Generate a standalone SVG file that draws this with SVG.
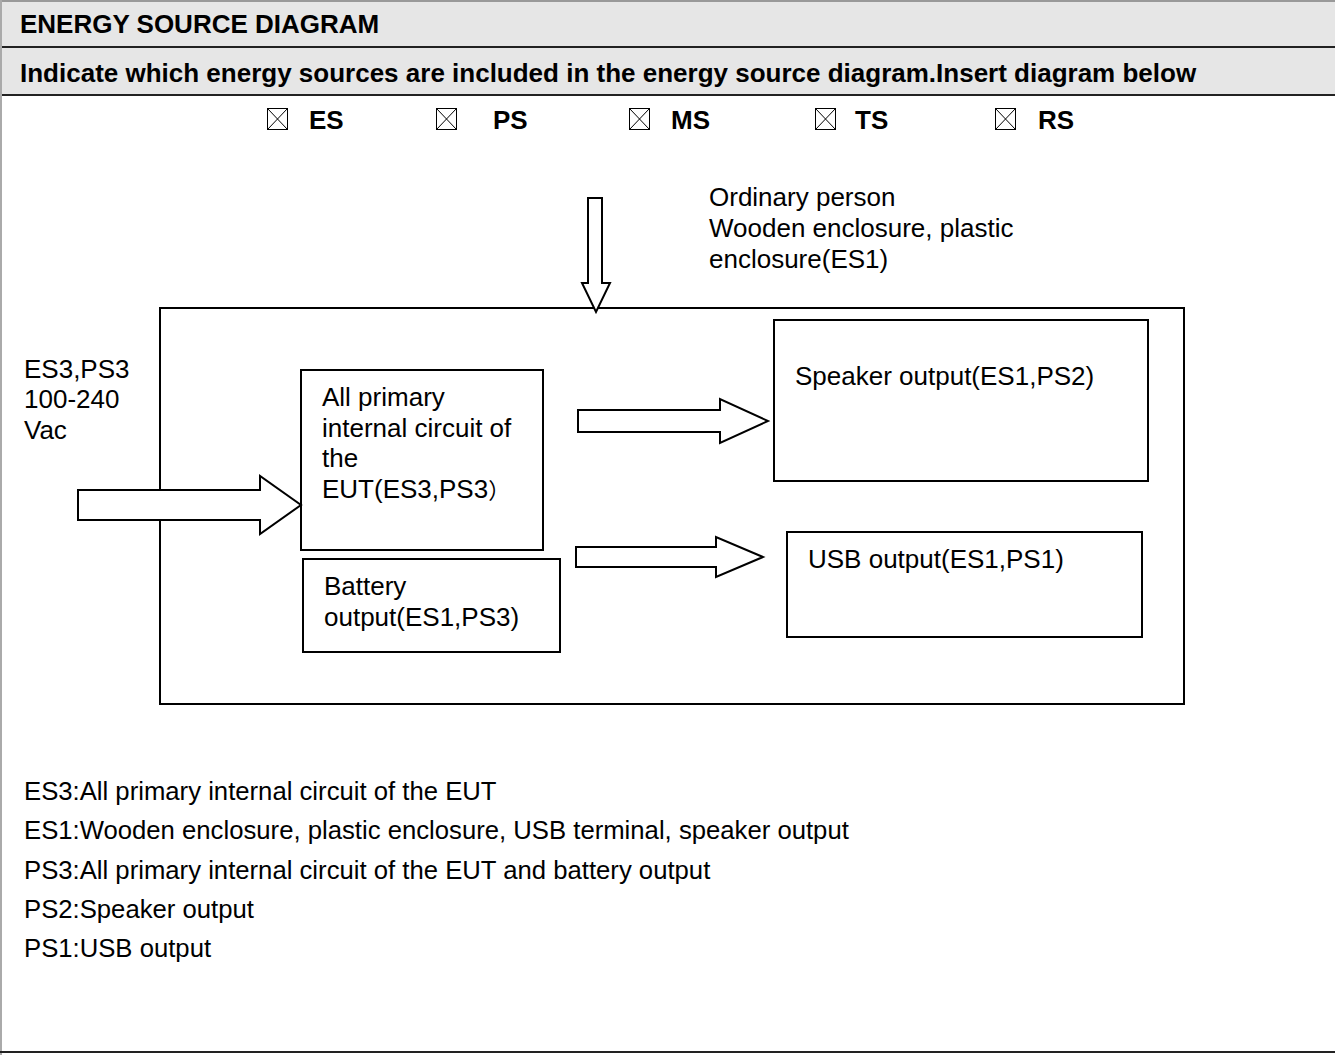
<svg xmlns="http://www.w3.org/2000/svg" width="1335" height="1055" viewBox="0 0 1335 1055">
<style>
text{font-family:"Liberation Sans",Arial,sans-serif;font-size:26px;fill:#000}
.b{font-weight:bold;font-size:26px}
.lg{font-size:25.7px}
.box{fill:none;stroke:#000;stroke-width:2}
.arr{fill:#fff;stroke:#000;stroke-width:2;stroke-linejoin:miter}
.cb{fill:none;stroke:#000;stroke-width:1}
</style>
<defs>
<g id="cbox"><rect class="cb" x="0.5" y="0.5" width="20" height="21"/><path class="cb" d="M0.5,0.5L20.5,21.5M20.5,0.5L0.5,21.5"/></g>
</defs>
<rect x="0" y="0" width="1335" height="1055" fill="#fff"/>
<g id="header">
<rect x="0" y="0" width="1335" height="95" fill="#e6e6e6"/>
<line x1="0" y1="47" x2="1335" y2="47" stroke="#222" stroke-width="2"/>
<line x1="0" y1="95" x2="1335" y2="95" stroke="#222" stroke-width="2"/>
<line x1="0" y1="1" x2="1335" y2="1" stroke="#999" stroke-width="2"/>
<line x1="1" y1="0" x2="1" y2="1055" stroke="#aaa" stroke-width="2"/>
<line x1="0" y1="1052" x2="1335" y2="1052" stroke="#222" stroke-width="2"/>
<text class="b" x="20" y="33" font-size="25">ENERGY SOURCE DIAGRAM</text>
<text class="b" x="20" y="82" font-size="26.5">Indicate which energy sources are included in the energy source diagram.Insert diagram below</text>
</g>
<g id="checkboxes">
<use href="#cbox" x="267" y="108"/>
<text class="b" x="309" y="129">ES</text>
<use href="#cbox" x="436" y="108"/>
<text class="b" x="493" y="129">PS</text>
<use href="#cbox" x="629" y="108"/>
<text class="b" x="671" y="129">MS</text>
<use href="#cbox" x="815" y="108"/>
<text class="b" x="855" y="129">TS</text>
<use href="#cbox" x="995" y="108"/>
<text class="b" x="1038" y="129">RS</text>
</g>
<g id="ordinary-label">
<text x="709" y="206">Ordinary person</text>
<text x="709" y="237">Wooden enclosure, plastic</text>
<text x="709" y="268">enclosure(ES1)</text>
</g>
<g id="input-label">
<text x="24" y="378">ES3,PS3</text>
<text x="24" y="408">100-240</text>
<text x="24" y="439">Vac</text>
</g>
<g id="enclosure"><rect class="box" x="160" y="308" width="1024" height="396"/></g>
<g id="primary">
<rect class="box" x="301" y="370" width="242" height="180"/>
<text x="322" y="406">All primary</text>
<text x="322" y="437">internal circuit of</text>
<text x="322" y="467">the</text>
<text x="322" y="498">EUT(ES3,PS3<tspan font-family="'Noto Sans CJK SC',sans-serif" font-size="22">）</tspan></text>
</g>
<g id="battery">
<rect class="box" x="303" y="559" width="257" height="93"/>
<text x="324" y="595">Battery</text>
<text x="324" y="626">output(ES1,PS3)</text>
</g>
<g id="speaker">
<rect class="box" x="774" y="320" width="374" height="161"/>
<text x="795" y="385">Speaker output(ES1,PS2)</text>
</g>
<g id="usb">
<rect class="box" x="787" y="532" width="355" height="105"/>
<text x="808" y="568">USB output(ES1,PS1)</text>
</g>
<g id="connectors">
<polygon class="arr" points="588,198 602,198 602,283 610,283 596,312 582,283 588,283"/>
<polygon class="arr" points="78,490 260,490 260,476 301,505 260,534 260,520 78,520"/>
<polygon class="arr" points="578,410 720,410 720,399 768,421 720,443 720,432 578,432"/>
<polygon class="arr" points="576,547 716,547 716,537 763,557 716,577 716,567 576,567"/>
</g>
<g id="legend">
<text class="lg" x="24" y="800">ES3:All primary internal circuit of the EUT</text>
<text class="lg" x="24" y="839">ES1:Wooden enclosure, plastic enclosure, USB terminal, speaker output</text>
<text class="lg" x="24" y="879">PS3:All primary internal circuit of the EUT and battery output</text>
<text class="lg" x="24" y="918">PS2:Speaker output</text>
<text class="lg" x="24" y="957">PS1:USB output</text>
</g>
</svg>
